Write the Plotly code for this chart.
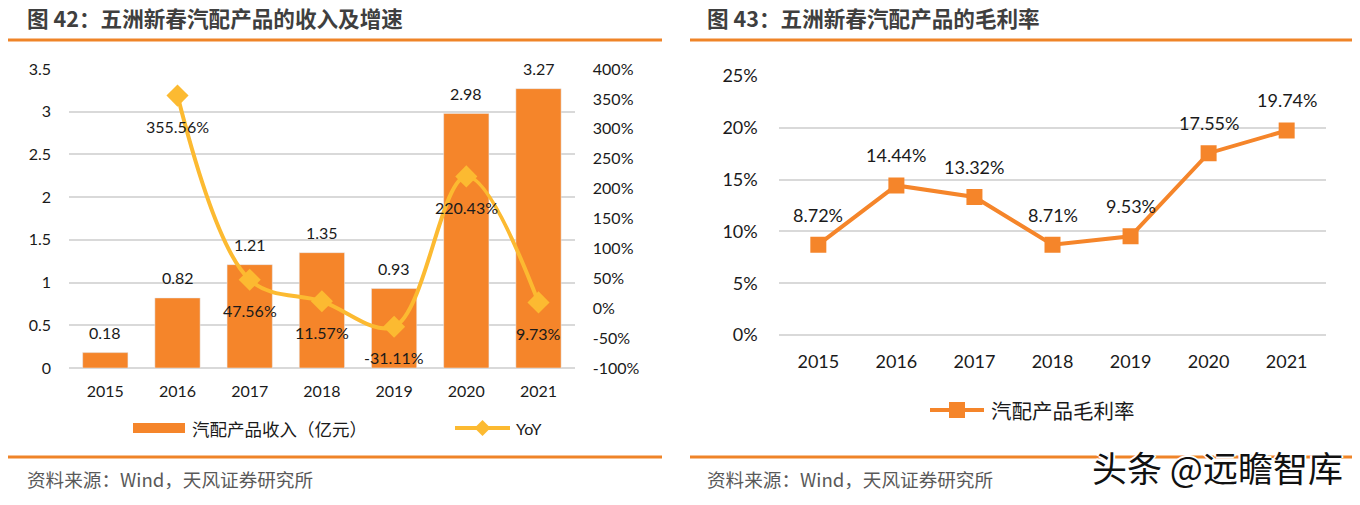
import plotly.graph_objects as go

W, H = 1360, 505

# ---- data ----
years = ["2015", "2016", "2017", "2018", "2019", "2020", "2021"]
revenue = [0.18, 0.82, 1.21, 1.35, 0.93, 2.98, 3.27]          # 亿元
yoy_years = ["2016", "2017", "2018", "2019", "2020", "2021"]
yoy = [355.56, 47.56, 11.57, -31.11, 220.43, 9.73]            # %
gross_margin = [8.72, 14.44, 13.32, 8.71, 9.53, 17.55, 19.74]  # %

left_ticks = [0, 0.5, 1, 1.5, 2, 2.5, 3, 3.5]
left_tick_text = ["0", "0.5", "1", "1.5", "2", "2.5", "3", "3.5"]
yoy_ticks = [-100, -50, 0, 50, 100, 150, 200, 250, 300, 350, 400]
yoy_tick_text = [f"{v}%" for v in yoy_ticks]
margin_ticks = [0, 5, 10, 15, 20, 25]
margin_tick_text = [f"{v}%" for v in margin_ticks]

title_left = "图 42：五洲新春汽配产品的收入及增速"
title_right = "图 43：五洲新春汽配产品的毛利率"
source_text = "资料来源：Wind，天风证券研究所"
bar_name = "汽配产品收入（亿元）"
yoy_name = "YoY"
margin_name = "汽配产品毛利率"
watermark = "头条 @远瞻智库"

# category positions (index of each year on the category scale)
pos = {y: i for i, y in enumerate(years)}
x_all = [pos[y] for y in years]
x_yoy = [pos[y] for y in yoy_years]

# ---- styles ----
BAR = "#F5852A"
YOY = "#FCBA31"
LINE = "#F5852A"
RULE = "#EF8428"
GRID = "#D9D9D9"
TXT = "#1A1A1A"
NONE = "rgba(0,0,0,0)"
NUMF = "Lato"
CJK = "Noto Sans CJK SC"


def px(x):
    return x / W


def py(y):
    return 1 - y / H


fig = go.Figure()

fig.add_trace(go.Bar(
    x=x_all, y=revenue, name=bar_name, marker_color=BAR, width=0.627,
    xaxis="x", yaxis="y",
))
fig.add_trace(go.Scatter(
    x=x_yoy, y=yoy, name=yoy_name, mode="lines+markers",
    line=dict(color=YOY, width=4, shape="spline", smoothing=1.0),
    marker=dict(symbol="diamond", size=17, color=YOY),
    xaxis="x", yaxis="y2",
))
fig.add_trace(go.Scatter(
    x=x_all, y=gross_margin, name=margin_name, mode="lines+markers",
    line=dict(color=LINE, width=4),
    marker=dict(symbol="square", size=16, color=LINE),
    xaxis="x2", yaxis="y3",
))

annotations = []
for xi, v in zip(x_all, revenue):
    annotations.append(dict(x=xi, y=v, xref="x", yref="y", yshift=20,
                            text=f"{v:.2f}", showarrow=False,
                            font=dict(family=NUMF, size=16, color=TXT)))
for xi, v in zip(x_yoy, yoy):
    annotations.append(dict(x=xi, y=v, xref="x", yref="y2", yshift=-31,
                            text=f"{v:.2f}%", showarrow=False,
                            font=dict(family=NUMF, size=16, color=TXT)))
for xi, v in zip(x_all, gross_margin):
    annotations.append(dict(x=xi, y=v, xref="x2", yref="y3", yshift=30,
                            text=f"{v:.2f}%", showarrow=False,
                            font=dict(family=NUMF, size=18, color=TXT)))

# titles
for x0, t in [(25, title_left), (705, title_right)]:
    annotations.append(dict(x=px(x0), y=py(17), xref="paper", yref="paper",
                            xanchor="left", yanchor="middle", showarrow=False,
                            text=f"<b>{t}</b>",
                            font=dict(family=CJK, size=21.6, color="#3F3F3F")))
# sources
for x0 in [25, 705]:
    annotations.append(dict(x=px(x0), y=py(478), xref="paper", yref="paper",
                            xanchor="left", yanchor="middle", showarrow=False,
                            text=source_text,
                            font=dict(family=CJK, size=18.6, color="#595959")))
# legends (manual)
annotations.append(dict(x=px(190), y=py(428), xref="paper", yref="paper",
                        xanchor="left", yanchor="middle", showarrow=False,
                        text=bar_name, font=dict(family=CJK, size=17.5, color=TXT)))
annotations.append(dict(x=px(514), y=py(428), xref="paper", yref="paper",
                        xanchor="left", yanchor="middle", showarrow=False,
                        text=yoy_name, font=dict(family=NUMF, size=16, color=TXT)))
annotations.append(dict(x=px(989), y=py(410), xref="paper", yref="paper",
                        xanchor="left", yanchor="middle", showarrow=False,
                        text=margin_name, font=dict(family=CJK, size=20.5, color=TXT)))
# watermark
annotations.append(dict(x=px(1345), y=py(466), xref="paper", yref="paper",
                        xanchor="right", yanchor="middle", showarrow=False,
                        text=watermark,
                        font=dict(family=CJK, size=35, color="#111111",
                                  shadow="2px 0 0 #fff, -2px 0 0 #fff, 0 2px 0 #fff, 0 -2px 0 #fff")))

shapes = []
for (xa, xb) in [(8, 662), (690, 1352)]:
    for yy in [40, 457]:
        shapes.append(dict(type="line", xref="paper", yref="paper",
                           x0=px(xa), x1=px(xb), y0=py(yy), y1=py(yy),
                           line=dict(color=RULE, width=3)))
# legend swatches
shapes.append(dict(type="rect", xref="paper", yref="paper",
                   x0=px(133), x1=px(185), y0=py(433), y1=py(423),
                   fillcolor=BAR, line=dict(width=0)))
shapes.append(dict(type="line", xref="paper", yref="paper",
                   x0=px(455), x1=px(510), y0=py(428), y1=py(428),
                   line=dict(color=YOY, width=4)))
cx, cy, r = 482.5, 428, 8
shapes.append(dict(type="path", xref="paper", yref="paper",
                   path=f"M {px(cx-r):.5f},{py(cy):.5f} L {px(cx):.5f},{py(cy-r):.5f} L {px(cx+r):.5f},{py(cy):.5f} L {px(cx):.5f},{py(cy+r):.5f} Z",
                   fillcolor=YOY, line=dict(width=0)))
shapes.append(dict(type="line", xref="paper", yref="paper",
                   x0=px(930), x1=px(984), y0=py(410), y1=py(410),
                   line=dict(color=LINE, width=4)))
shapes.append(dict(type="rect", xref="paper", yref="paper",
                   x0=px(949), x1=px(965), y0=py(418), y1=py(402),
                   fillcolor=LINE, line=dict(width=0)))

n = len(years)
common = dict(automargin=False, showline=False, zeroline=False)
fig.update_layout(
    width=W, height=H, margin=dict(l=0, r=0, t=0, b=0, autoexpand=False),
    paper_bgcolor="white", plot_bgcolor="white", showlegend=False,
    font=dict(family=NUMF, color=TXT),
    xaxis=dict(domain=[px(69.2), px(574.6)], type="linear", range=[-0.5, n - 0.5],
               tickmode="array", tickvals=x_all, ticktext=years,
               anchor="y", showgrid=False, **common,
               ticks="outside", ticklen=9, tickcolor=NONE,
               tickfont=dict(size=16, family=NUMF, color=TXT)),
    yaxis=dict(domain=[py(368), py(69)], range=[0, 3.5], tickmode="array",
               tickvals=left_ticks, ticktext=left_tick_text,
               showgrid=True, gridcolor=GRID, gridwidth=2, automargin=False,
               showline=False, zeroline=True, zerolinecolor=GRID, zerolinewidth=2,
               anchor="x", ticks="outside", ticklen=14, tickcolor=NONE,
               tickfont=dict(size=16, family=NUMF, color=TXT)),
    yaxis2=dict(domain=[py(368), py(69)], range=[-100, 400], tickmode="array",
                tickvals=yoy_ticks, ticktext=yoy_tick_text,
                overlaying="y", side="right", anchor="x",
                showgrid=False, **common,
                ticks="outside", ticklen=14, tickcolor=NONE,
                tickfont=dict(size=16, family=NUMF, color=TXT)),
    xaxis2=dict(domain=[px(779.3), px(1325.7)], type="linear", range=[-0.5, n - 0.5],
                tickmode="array", tickvals=x_all, ticktext=years,
                anchor="y3", showgrid=False, **common,
                ticks="outside", ticklen=10, tickcolor=NONE,
                tickfont=dict(size=18, family=NUMF, color=TXT)),
    yaxis3=dict(domain=[py(335), py(76)], range=[0, 25], tickmode="array",
                tickvals=margin_ticks, ticktext=margin_tick_text,
                showgrid=True, gridcolor=GRID, gridwidth=2, automargin=False,
                showline=False, zeroline=True, zerolinecolor=GRID, zerolinewidth=2,
                anchor="x2", ticks="outside", ticklen=17, tickcolor=NONE,
                tickfont=dict(size=18, family=NUMF, color=TXT)),
    annotations=annotations,
    shapes=shapes,
)

fig.write_html("out.html",
               config={"displayModeBar": False},
               post_script="document.body.style.margin='0';document.body.style.overflow='hidden';")
